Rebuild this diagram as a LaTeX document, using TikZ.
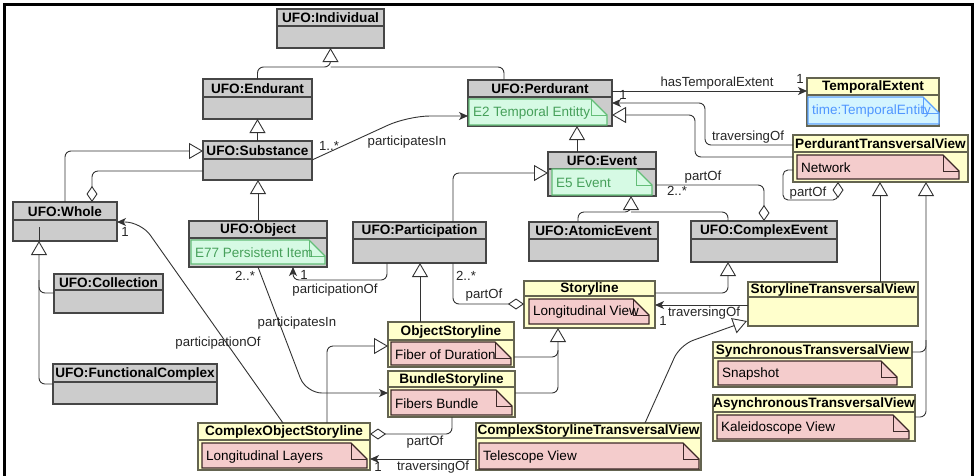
\documentclass[tikz,border=0pt]{standalone}
\usepackage{fontspec}
\setmainfont{Liberation Sans}
\usetikzlibrary{arrows.meta,calc}
\definecolor{greyfill}{RGB}{204,204,204}
\definecolor{boxline}{RGB}{70,70,70}
\definecolor{yellowfill}{RGB}{255,255,204}
\definecolor{yellowline}{RGB}{100,100,80}
\definecolor{pinkfill}{RGB}{244,204,204}
\definecolor{pinkline}{RGB}{60,40,40}
\definecolor{greenfill}{RGB}{214,250,228}
\definecolor{greenline}{RGB}{100,190,120}
\definecolor{greentext}{RGB}{70,160,90}
\definecolor{bluefill}{RGB}{212,245,255}
\definecolor{blueline}{RGB}{90,160,255}
\definecolor{bluetext}{RGB}{80,150,255}
\def\fold{16}
\newcommand{\umlcls}[9]{% name x1 y1 x2 y2 ysep fill line title
  \node[clsbox, fill=#7, draw=#8, minimum width={#4-#2}, minimum height={#5-#3}] (#1) at ({(#2+#4)/2},{(#3+#5)/2}) {};
  \draw[draw=#8, line width=1.2pt] (#2,#6) -- (#4,#6);
  \node[hdr] (#1-t) at ({(#2+#4)/2},{(#3+#6)/2+0.5}) {#9};
}
\newcommand{\umlnote}[9]{% name x1 y1 x2 y2 fill line textcolor text
  \filldraw[fill=#6, draw=#7, line width=1.2pt] (#2,#3) -- ({#4-\fold},#3) -- (#4,{#3+\fold}) -- (#4,#5) -- (#2,#5) -- cycle;
  \draw[draw=#7, line width=1pt] ({#4-\fold},#3) -- ({#4-\fold},{#3+\fold}) -- (#4,{#3+\fold});
  \node[notetxt, text=#8, anchor=west] (#1) at ({#2+4},{(#3+#5)/2+1}) {#9};
}
\tikzset{
  clsbox/.style={line width=1.2pt, inner sep=0pt, outer sep=0pt},
  hdr/.style={font=\bfseries\fontsize{13.6}{15}\selectfont, inner sep=0pt},
  notetxt/.style={font=\fontsize{13.5}{15}\selectfont, inner sep=0pt},
  lbl/.style={font=\fontsize{13.2}{15}\selectfont, inner sep=0pt, text=black!85},
  conn/.style={draw=black!80, line width=0.9pt, rounded corners=6pt},
  gen/.style={conn, -{Triangle[fill=white, length=14pt, width=16pt]}},
  assoc/.style={conn, -{Stealth[length=9pt, width=8pt, inset=2.5pt]}},
  agg/.style={conn, {Diamond[fill=white, length=16pt, width=11pt]}-},
}
\begin{document}
\begin{tikzpicture}[x=1pt,y=-1pt]
\useasboundingbox (0,0) rectangle (977,475);
\fill[white] (0,0) rectangle (977,475);
% frame
\draw[line width=3pt] (4.5,476) -- (4.5,4.5) -- (972.5,4.5) -- (972.5,476);
% grey classes
\umlcls{ind}{277}{9}{384}{48}{26}{greyfill}{boxline}{UFO:Individual}
\umlcls{end}{203}{79}{312}{119}{97}{greyfill}{boxline}{UFO:Endurant}
\umlcls{sub}{203}{141}{312}{180}{159}{greyfill}{boxline}{UFO:Substance}
\umlcls{whole}{13}{202}{117}{241}{220}{greyfill}{boxline}{UFO:Whole}
\umlcls{obj}{189}{221}{327}{267}{238}{greyfill}{boxline}{UFO:Object}
\umlnote{objn}{191}{240}{325}{264}{greenfill}{greenline}{greentext}{E77 Persistent Item}
\umlcls{coll}{54}{274}{163}{313}{290}{greyfill}{boxline}{UFO:Collection}
\umlcls{fc}{53}{364}{217}{404}{382}{greyfill}{boxline}{UFO:FunctionalComplex}
\umlcls{per}{468}{80}{612}{126}{97}{greyfill}{boxline}{UFO:Perdurant}
\umlnote{pern}{469}{99}{607}{125}{greenfill}{greenline}{greentext}{E2 Temporal Entitty}
\umlcls{evt}{548}{152}{656}{196}{169}{greyfill}{boxline}{UFO:Event}
\umlnote{evtn}{552}{169}{652}{195}{greenfill}{greenline}{greentext}{E5 Event}
\umlcls{part}{353}{222}{486}{263}{239}{greyfill}{boxline}{UFO:Participation}
\umlcls{atom}{529}{222}{658}{261}{239}{greyfill}{boxline}{UFO:AtomicEvent}
\umlcls{cev}{691}{221}{837}{262}{239}{greyfill}{boxline}{UFO:ComplexEvent}
% yellow classes
\umlcls{sl}{524}{281}{655}{328}{296}{yellowfill}{yellowline}{Storyline}
\umlnote{sln}{529}{299}{649}{324}{pinkfill}{pinkline}{black}{Longitudinal View}
\umlcls{os}{388}{322}{514}{367}{340}{yellowfill}{yellowline}{ObjectStoryline}
\umlnote{osn}{391}{342}{511}{365}{pinkfill}{pinkline}{black}{Fiber of Duration}
\umlcls{bs}{388}{371}{515}{417}{387}{yellowfill}{yellowline}{BundleStoryline}
\umlnote{bsn}{391}{390}{512}{415}{pinkfill}{pinkline}{black}{Fibers Bundle}
\umlcls{cos}{198}{423}{370}{470}{440}{yellowfill}{yellowline}{ComplexObjectStoryline}
\umlnote{cosn}{202}{443}{367}{468}{pinkfill}{pinkline}{black}{Longitudinal Layers}
\umlcls{cstv}{476}{423}{701}{470}{438}{yellowfill}{yellowline}{ComplexStorylineTransversalView}
\umlnote{cstvn}{479}{443}{699}{469}{pinkfill}{pinkline}{black}{Telescope View}
\umlcls{te}{807}{78}{939}{126}{95}{yellowfill}{yellowline}{TemporalExtent}
\umlnote{ten}{808}{97}{939}{124}{bluefill}{blueline}{bluetext}{time:TemporalEntity}
\umlcls{ptv}{793}{135}{968}{182}{152}{yellowfill}{yellowline}{PerdurantTransversalView}
\umlnote{ptvn}{797}{155}{959}{179}{pinkfill}{pinkline}{black}{Network}
\umlcls{stv}{748}{282}{918}{326}{297}{yellowfill}{yellowline}{StorylineTransversalView}
\umlcls{sync}{713}{342}{912}{387}{358}{yellowfill}{yellowline}{SynchronousTransversalView}
\umlnote{syncn}{718}{361}{897}{385}{pinkfill}{pinkline}{black}{Snapshot}
\umlcls{async}{713}{395}{915}{441}{412}{yellowfill}{yellowline}{AsynchronousTransversalView}
\umlnote{asyncn}{717}{415}{909}{439}{pinkfill}{pinkline}{black}{Kaleidoscope View}
% generalizations
\draw[gen] (end.north) |- (ind.south |- 0,67) -- (ind.south);
\draw[conn] (per.north -| 504,0) |- (ind.south |- 0,67);
\draw[gen] (sub.north) -- (end.south);
\draw[gen] (obj.north) -- (obj.north |- sub.south);
\draw[gen] (whole.north -| 65,0) |- (sub.west |- 0,151);
\draw[gen] (evt.north -| 577,0) -- (per.south -| 577,0);
\draw[gen] (part.north -| 453,0) |- (evt.west |- 0,173);
\draw[gen] (atom.north -| 578,0) |- (631,212) -- (evt.south -| 631,0);
\draw[conn] (cev.north -| 728,0) |- (631,212);
\draw[gen] (sl.east |- 0,293) -| (cev.south -| 728,0);
\draw[gen] (whole.south -| 39,0) -- (39,241);
\draw[conn] (coll.west |- 0,293) -| (39,255);
\draw[conn] (fc.west |- 0,384) -| (39,280);
\draw[gen] (os.north -| 420,0) -- (part.south -| 420,0);
\draw[gen] (cos.north -| 327,0) |- (os.west |- 0,346);
\draw[gen] (os.east |- 0,357) -| (sl.south -| 558,0);
\draw[conn] (bs.east |- 0,393) -| (558,350);
\draw[gen, rounded corners=14pt] (cstv.north -| 645,0) -- (680,345) -- ($(stv.south west)+(-1,-5)$);
\draw[gen] (stv.north -| 880,0) -- (ptv.south -| 880,0);
\draw[gen] (sync.east |- 0,352) -| (ptv.south -| 926,0);
\draw[conn] (async.east |- 0,417) -| (926,340);
\draw[gen] (ptv.west |- 0,157) -| (695,115) -- (per.east |- 0,115);
% aggregations
\draw[agg] (whole.north -| 92,0) |- (sub.west |- 0,171);
\draw[agg] (cev.north -| 764,0) |- (evt.east |- 0,185);
\draw[agg] (sl.west |- 0,304) -| (part.south -| 453,0);
\draw[agg] (cos.east |- 0,434) -| (bs.south -| 452,0);
\draw[agg, rounded corners=5pt] (ptv.south -| 838,0) -- (838,200) -| (783,170) -- (ptv.west |- 0,170);
% associations
\draw[assoc, rounded corners=22pt] (sub.east |- 0,160) -- (408,116) -- (per.west |- 0,116);
\draw[assoc] (part.south -| 387,0) |- (293,280) -- (obj.south -| 293,0);
\draw[assoc, rounded corners=16pt] (obj.south -| 258,0) -- (306,393) -- (bs.west |- 0,393);
\draw[assoc, rounded corners=16pt] (cos.north -| 283,0) -- (141,222) -- (whole.east |- 0,222);
\draw[assoc] (cstv.west |- 0,459) -- (cos.east |- 0,459);
\draw[assoc] (stv.west |- 0,305) -- (sl.east |- 0,305);
\draw[assoc] (per.east |- 0,91) -- (te.west |- 0,91);
\draw[assoc] (ptv.west |- 0,145) -| (705,103) -- (per.east |- 0,103);
% labels
\node[lbl] (l1) at (329,146) {1..*};
\node[lbl] (l2) at (407,142) {participatesIn};
\node[lbl] (l3) at (703,177) {partOf};
\node[lbl] (l4) at (677,191) {2..*};
\node[lbl] (l5) at (466,276) {2..*};
\node[lbl] (l6) at (484,295) {partOf};
\node[lbl] (l7) at (304,275) {1};
\node[lbl] (l8) at (335,290) {participationOf};
\node[lbl] (l9) at (245,276) {2..*};
\node[lbl] (l10) at (297,323) {participatesIn};
\node[lbl] (l11) at (218,343) {participationOf};
\node[lbl] (l12) at (125,232) {1};
\node[lbl] (l13) at (425,442) {partOf};
\node[lbl] (l14) at (433,467) {traversingOf};
\node[lbl] (l15) at (378,467) {1};
\node[lbl] (l16) at (704,313) {traversingOf};
\node[lbl] (l17) at (663,321) {1};
\node[lbl] (l18) at (717,83) {hasTemporalExtent};
\node[lbl] (l19) at (800,79) {1};
\node[lbl] (l20) at (748,137) {traversingOf};
\node[lbl] (l21) at (623,95) {1};
\node[lbl] (l22) at (808,193) {partOf};
\end{tikzpicture}
\end{document}
